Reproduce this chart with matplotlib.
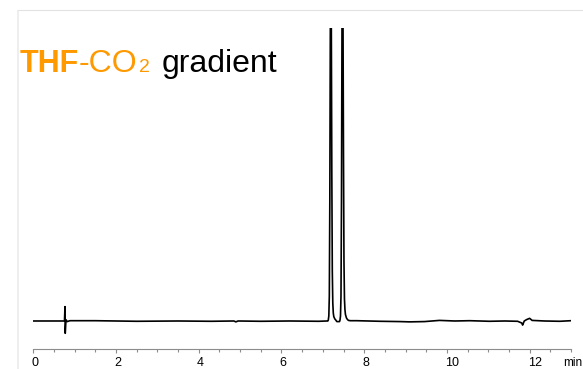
import matplotlib
matplotlib.use("Agg")
import matplotlib.pyplot as plt
import matplotlib.transforms as mtransforms
from matplotlib.ticker import FixedLocator, MultipleLocator

plt.rcParams['font.family'] = ['Liberation Sans', 'DejaVu Sans']

# Chromatogram: retention time (min) and detector signal (mAU)
time_min = [
    0.000, 0.400, 0.754, 0.766, 0.772, 0.790, 0.820, 0.887, 1.500, 2.500,
    3.500, 4.300, 4.850, 4.897, 4.950, 5.500, 6.200, 6.900, 7.100,
    # first peak
    7.120, 7.132, 7.145, 7.157, 7.169, 7.181, 7.193, 7.205, 7.217, 7.229,
    7.241, 7.253, 7.265, 7.290, 7.314, 7.338,
    # second peak
    7.403, 7.415, 7.427, 7.439, 7.451, 7.463, 7.475, 7.487, 7.499, 7.511,
    7.523, 7.535, 7.547, 7.572, 7.596, 7.620, 7.668,
    # late baseline
    7.820, 8.380, 8.860, 9.100, 9.460, 9.820, 10.190, 10.550, 11.030, 11.400,
    11.710, 11.810, 11.830, 11.870, 11.930, 12.000, 12.060, 12.360, 12.730, 13.000,
]
signal_mau = [
    0.0, 0.0, 0.0, 4.9, -4.2, 0.4, -0.2, 0.1, 0.1, -0.1,
    0.0, -0.1, 0.0, -0.3, 0.0, -0.1, 0.0, -0.1, 0.0,
    0.0, 0.3, 1.7, 8.5, 41.0, 99.0, 123.0, 102.0, 51.0, 17.0,
    6.1, 2.7, 1.5, 0.7, 0.3, -0.2,
    -0.2, 0.3, 1.7, 8.5, 41.0, 99.0, 123.0, 106.0, 58.0, 20.5,
    7.5, 3.8, 2.2, 1.0, 0.5, 0.2, 0.1,
    0.1, -0.1, -0.2, -0.3, -0.2, 0.2, 0.0, 0.1, -0.1, 0.0,
    -0.1, -0.7, -1.4, 0.0, 0.5, 0.9, 0.2, 0.0, -0.1, 0.1,
]

tick_minutes = [0, 2, 4, 6, 8, 10, 12]
tick_labels = ["0", "2", "4", "6", "8", "10", "12"]
time_unit = "min"

ORANGE = "#FF9900"
AXIS_GREY = "#8c8c8c"
FRAME_GREY = "#e2e2e2"

W, H = 583, 369
fig = plt.figure(figsize=(W / 100, H / 100), dpi=100)

# Background layer in pixel coordinates for the frame and title
bg = fig.add_axes([0, 0, 1, 1])
bg.set_xlim(0, W)
bg.set_ylim(H, 0)
bg.axis("off")
bg.plot([17, W], [10.3, 10.3], color=FRAME_GREY, lw=0.8, solid_capstyle="butt")
bg.plot([18, 18], [10.3, H], color="#ebebeb", lw=1.2, solid_capstyle="butt")

base_y = 71.7
bg.text(20, base_y, "THF", color=ORANGE, fontsize=22, fontweight="bold", va="baseline", ha="left")
bg.text(78.5, base_y, "-CO", color=ORANGE, fontsize=23, va="baseline", ha="left")
bg.text(138.5, base_y, "2", color=ORANGE, fontsize=14, va="baseline", ha="left")
bg.text(161.5, base_y, "gradient", color="black", fontsize=23, va="baseline", ha="left")

# Trace axes: x from 0 to 13 min along the bottom axis line
x0, x1 = 33.3, 571.0
y_axis, y_top = 349.0, 28.0
ax = fig.add_axes([x0 / W, (H - y_axis) / H, (x1 - x0) / W, (y_axis - y_top) / H])
ax.patch.set_alpha(0)
ax.set_xlim(0, 13)
ax.set_ylim(-9.56, 100)
ax.plot(time_min, signal_mau, color="black", lw=1.2, solid_joinstyle="round")

for side in ("top", "left", "right"):
    ax.spines[side].set_visible(False)
ax.spines["bottom"].set_color(AXIS_GREY)
ax.spines["bottom"].set_linewidth(0.8)
ax.yaxis.set_visible(False)
ax.xaxis.set_major_locator(FixedLocator(tick_minutes))
ax.xaxis.set_minor_locator(MultipleLocator(0.5))
ax.tick_params(axis="x", which="major", direction="out", length=3.0, width=0.8,
               color=AXIS_GREY, labelbottom=False)
ax.tick_params(axis="x", which="minor", direction="out", length=2.2, width=0.8,
               color=AXIS_GREY)

label_tf = mtransforms.offset_copy(ax.get_xaxis_transform(), fig=fig, x=-2, y=-19.5, units="dots")
for t, lab in zip(tick_minutes, tick_labels):
    ax.text(t, 0, lab, transform=label_tf, ha="left", va="bottom", fontsize=9, color="black")

bg.text(563, 368.5, time_unit, fontsize=8.5, ha="left", va="bottom", color="black")

# One minor tick is drawn dark on the instrument printout
fig.canvas.draw()
for tick in ax.xaxis.get_minor_ticks():
    if abs(tick.get_loc() - 5.5) < 1e-6:
        tick.tick1line.set_color("black")

fig.savefig("out.png", dpi=100)
